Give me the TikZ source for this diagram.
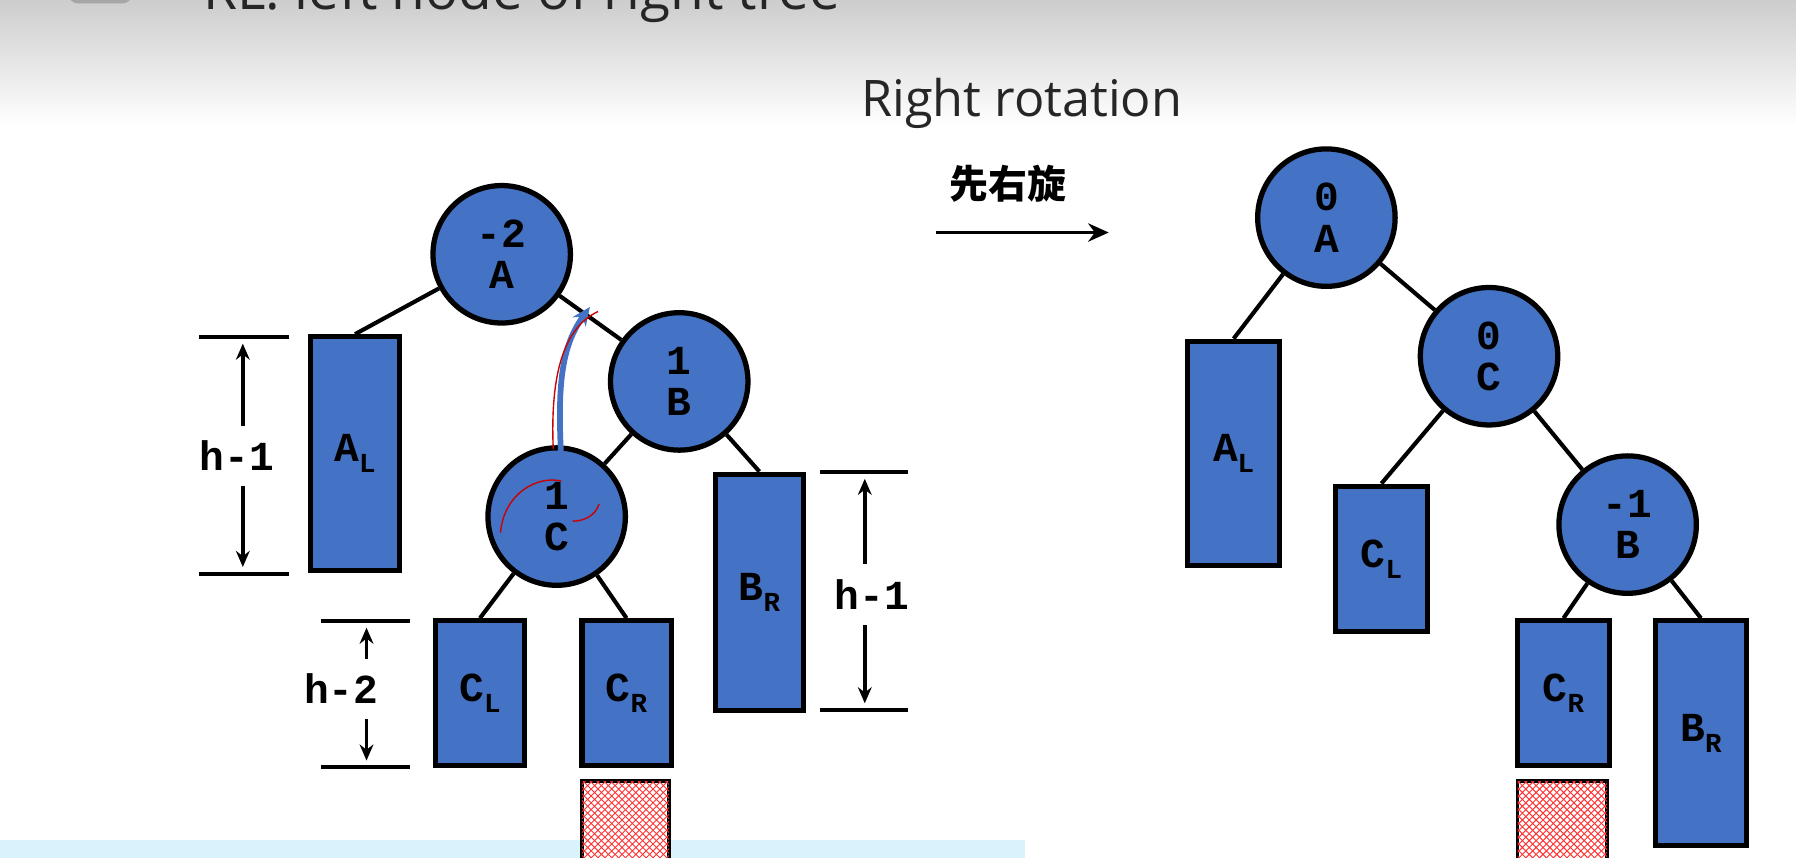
\documentclass[tikz,border=0pt]{standalone}
\usepackage{fontspec}
\setmonofont{Liberation Mono}
\setsansfont{Open Sans}
\newfontfamily\cjk{Noto Sans CJK SC}
\usetikzlibrary{patterns,arrows.meta}
\definecolor{nodeblue}{HTML}{4472C4}
\tikzset{
 tnode/.style={circle,draw=black,line width=2.3pt,fill=nodeblue,minimum size=60pt,inner sep=0pt,align=center,font=\ttfamily\bfseries\fontsize{18}{18}\selectfont},
 tbox/.style={draw=black,line width=2.3pt,fill=nodeblue,inner sep=0pt,font=\ttfamily\bfseries\fontsize{18}{18}\selectfont},
 edge/.style={line width=1.8pt},
 hatch/.style={draw=black,line width=1.5pt,fill=white,postaction={pattern=crosshatch,pattern color=red!80}},
 dim/.style={line width=1.7pt},
 dimarr/.style={line width=1.7pt,-{Stealth[length=7pt,width=6pt]}},
 dimlab/.style={font=\ttfamily\bfseries\fontsize{18}{18}\selectfont}
}
\newcommand{\sub}[2]{#1\raisebox{-0.5ex}{\fontsize{12}{12}\selectfont #2}}
\begin{document}
\begin{tikzpicture}[x=0.5pt,y=-0.5pt]
\useasboundingbox (0,0) rectangle (1568,749);
\clip (0,0) rectangle (1568,749);
\fill[white] (0,0) rectangle (1568,749);
\shade[top color=black!20,bottom color=white] (0,-2) rectangle (1568,110);
\node[anchor=base west,font=\sffamily\fontsize{24}{26}\selectfont,text=black!85] (title) at (140,8) {• RL: left node of right tree};
\fill[black!35,rounded corners=4pt] (60,-10) rectangle (115,3);
\fill[cyan!15] (0,733) rectangle (895,749);
% header
\node[font=\sffamily\fontsize{22}{24}\selectfont,text=black!85] (rr) at (892,90) {Right rotation};
\node[font=\cjk\bfseries\fontsize{17}{18}\selectfont] (xy) at (880,160) {先右旋};
\coordinate (r1) at (817,203); \coordinate (r2) at (968,203);
\draw[line width=1.7pt,-{Stealth[length=9pt,width=8pt]}] (r1) -- (r2);
% left tree
\node[tnode] (A) at (438,222) {-2\\A};
\node[tnode] (B) at (593,333) {1\\B};
\node[tnode] (C) at (486,451) {1\\C};
\node[tbox,minimum width=39pt,minimum height=102pt] (AL) at (310,396) {\sub{A}{L}};
\node[tbox,minimum width=39pt,minimum height=63pt] (CL) at (419,605) {\sub{C}{L}};
\node[tbox,minimum width=39pt,minimum height=63pt] (CR) at (547,605) {\sub{C}{R}};
\node[tbox,minimum width=38.5pt,minimum height=103pt] (BR) at (663,517) {\sub{B}{R}};
\node[hatch,minimum width=38pt,minimum height=36pt] (H1) at (546,718) {};
\draw[edge] (A) -- (AL.north);
\draw[edge] (A) -- (B);
\draw[edge] (B) -- (C);
\draw[edge] (B) -- (BR.north);
\draw[edge] (C) -- (CL.north);
\draw[edge] (C) -- (CR.north);
% dimensions
\draw[dim] (174,294) -- (252,294); \draw[dim] (174,501) -- (252,501);
\node[dimlab] (d1) at (207,398) {h-1};
\draw[dimarr] (212,372) -- (212,300); \draw[dimarr] (212,424) -- (212,495);
\draw[dim] (280,542) -- (358,542); \draw[dim] (280,670) -- (358,670);
\node[dimlab] (d2) at (298,601) {h-2};
\draw[dimarr] (320,575) -- (320,548); \draw[dimarr] (320,628) -- (320,664);
\draw[dim] (716,412) -- (793,412); \draw[dim] (716,620) -- (793,620);
\node[dimlab] (d3) at (761,519) {h-1};
\draw[dimarr] (755,492) -- (755,418); \draw[dimarr] (755,546) -- (755,614);
% annotation
\draw[nodeblue,line width=2.5pt,-{Stealth[length=8pt,width=7pt]}] (490,400) .. controls (486,330) and (492,300) .. (515,268);
\draw[red!80!black,line width=0.6pt] (483,392) .. controls (480,320) and (495,285) .. (522,272);
\draw[red!80!black,line width=0.6pt] (437,465) .. controls (440,430) and (470,415) .. (490,420);
\draw[red!80!black,line width=0.6pt] (500,455) .. controls (510,455) and (520,450) .. (523,440);
% right tree
\node[tnode] (A2) at (1158,190) {0\\A};
\node[tnode] (C2) at (1300,311) {0\\C};
\node[tnode] (B2) at (1421,458) {-1\\B};
\node[tbox,minimum width=40pt,minimum height=98pt] (AL2) at (1077,396) {\sub{A}{L}};
\node[tbox,minimum width=40pt,minimum height=63.5pt] (CL2) at (1206,488) {\sub{C}{L}};
\node[tbox,minimum width=40pt,minimum height=63pt] (CR2) at (1365,605) {\sub{C}{R}};
\node[tbox,minimum width=40pt,minimum height=98pt] (BR2) at (1485,640) {\sub{B}{R}};
\node[hatch,minimum width=39pt,minimum height=36pt] (H2) at (1364,718) {};
\draw[edge] (A2) -- (AL2.north);
\draw[edge] (A2) -- (C2);
\draw[edge] (C2) -- (CL2.north);
\draw[edge] (C2) -- (B2);
\draw[edge] (B2) -- (CR2.north);
\draw[edge] (B2) -- (BR2.north);
\end{tikzpicture}
\end{document}
